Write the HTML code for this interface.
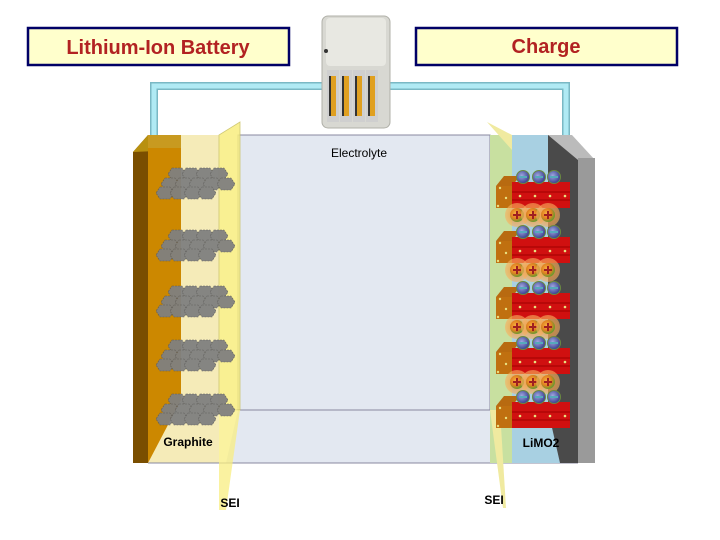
<!DOCTYPE html>
<html><head><meta charset="utf-8"><style>
html,body{margin:0;padding:0;background:#fff;width:720px;height:540px;overflow:hidden}
svg{display:block}
text{font-family:"Liberation Sans",Arial,sans-serif}
</style></head><body>
<svg width="720" height="540" viewBox="0 0 720 540" xmlns="http://www.w3.org/2000/svg">
<defs>
<g id="hex">
<polygon points="0,-6 10,-6 14,0 10,6 0,6 -4,0" fill="#808080" stroke="#5a5a5a" stroke-width="0.6" stroke-dasharray="2,1"/>
</g>
<g id="cl">
<use href="#hex" x="-28" y="-6"/><use href="#hex" x="-14" y="-6"/><use href="#hex" x="0" y="-6"/><use href="#hex" x="14" y="-6"/>
<use href="#hex" x="-35" y="4"/><use href="#hex" x="-21" y="4"/><use href="#hex" x="-7" y="4"/><use href="#hex" x="7" y="4"/><use href="#hex" x="21" y="4"/>
<use href="#hex" x="-40" y="13"/><use href="#hex" x="-26" y="13"/><use href="#hex" x="-12" y="13"/><use href="#hex" x="2" y="13"/>
</g>
<radialGradient id="neg" cx="0.4" cy="0.4" r="0.6"><stop offset="0" stop-color="#a0a8e0"/><stop offset="1" stop-color="#3a3f90"/></radialGradient>
<radialGradient id="pos" cx="0.4" cy="0.4" r="0.6"><stop offset="0" stop-color="#f8b040"/><stop offset="0.6" stop-color="#e08020"/><stop offset="1" stop-color="#6a9a30"/></radialGradient>
<radialGradient id="halo" cx="0.5" cy="0.5" r="0.5"><stop offset="0" stop-color="#f09030" stop-opacity="0.9"/><stop offset="1" stop-color="#f8b060" stop-opacity="0.6"/></radialGradient>
<g id="neg1"><circle r="6.5" fill="url(#neg)" stroke="#6a8a40" stroke-width="1"/><rect x="-4" y="-1" width="8" height="2" fill="#5ab"/></g>
<g id="pos1"><circle r="12" fill="url(#halo)"/><circle r="7" fill="url(#pos)"/><rect x="-4" y="-1" width="8" height="2" fill="#a02020"/><rect x="-1" y="-4" width="2" height="8" fill="#a02020"/></g>
<g id="redrow">
<polygon points="496,-2 504,-12 520,-12 512,-2" fill="#b86a10"/>
<polygon points="496,-2 512,-2 512,20 496,20" fill="#c07010"/>
<rect x="512" y="-6" width="58" height="26" fill="#d01010"/>
<path d="M512 4 h58 M512 12 h58" stroke="#a00000" stroke-width="1"/>
<g fill="#e8e080"><circle cx="520" cy="8" r="1.3"/><circle cx="535" cy="8" r="1.3"/><circle cx="550" cy="8" r="1.3"/><circle cx="565" cy="8" r="1.3"/><circle cx="500" cy="0" r="1.2"/><circle cx="506" cy="10" r="1.2"/><circle cx="498" cy="18" r="1.2"/></g>
</g>
<g id="negrow"><use href="#neg1" x="523"/><use href="#neg1" x="539"/><use href="#neg1" x="554"/></g>
<g id="posrow"><use href="#pos1" x="517"/><use href="#pos1" x="533"/><use href="#pos1" x="548"/></g>
</defs>

<rect x="28" y="28" width="261" height="37" fill="#ffffcc" stroke="#000066" stroke-width="2.5"/>
<text x="158" y="54" text-anchor="middle" font-size="20" font-weight="bold" fill="#b22222">Lithium-Ion Battery</text>
<rect x="416" y="28" width="261" height="37" fill="#ffffcc" stroke="#000066" stroke-width="2.5"/>
<text x="546" y="53" text-anchor="middle" font-size="20" font-weight="bold" fill="#b22222">Charge</text>

<path d="M154 140 V86 H566 V145" fill="none" stroke="#7ab8c4" stroke-width="8"/>
<path d="M154 140 V86 H566 V145" fill="none" stroke="#b0eaf4" stroke-width="5"/>

<rect x="322" y="16" width="68" height="112" rx="6" fill="#d8d8d2" stroke="#b0b0a8"/>
<rect x="326" y="18" width="60" height="48" rx="4" fill="#e8e8e2"/>
<circle cx="326" cy="51" r="2" fill="#333"/>
<g>
<rect x="327" y="70" width="12" height="52" fill="#cfcfcf"/><rect x="340" y="70" width="12" height="52" fill="#cfcfcf"/><rect x="353" y="70" width="12" height="52" fill="#cfcfcf"/><rect x="366" y="70" width="12" height="52" fill="#cfcfcf"/>
<rect x="330" y="76" width="6" height="40" fill="#e0a020"/><rect x="343" y="76" width="6" height="40" fill="#e0a020"/><rect x="356" y="76" width="6" height="40" fill="#e0a020"/><rect x="369" y="76" width="6" height="40" fill="#e0a020"/>
<rect x="329" y="76" width="2" height="40" fill="#333"/><rect x="342" y="76" width="2" height="40" fill="#333"/><rect x="355" y="76" width="2" height="40" fill="#333"/><rect x="368" y="76" width="2" height="40" fill="#333"/>
</g>

<polygon points="133,152 148,135 148,463 133,463" fill="#7a4e00"/>
<polygon points="133,152 148,135 181,135 181,150" fill="#b89010"/>
<rect x="148" y="148" width="33" height="315" fill="#cc8800"/>
<polygon points="148,135 181,135 181,148 148,148" fill="#c89a20"/>
<rect x="181" y="135" width="38" height="328" fill="#f5ebb8"/>
<polygon points="148,463 181,400 181,463" fill="#f5ebb8"/>

<rect x="238" y="135" width="252" height="275" fill="#e3e8f1" stroke="#8888a0" stroke-width="1"/>
<polygon points="238,410 490,410 506,463 226,463" fill="#e3e8f1"/>
<line x1="238" y1="410" x2="490" y2="410" stroke="#8888a0"/>
<line x1="148" y1="463" x2="578" y2="463" stroke="#8888a0"/>
<text x="359" y="157" text-anchor="middle" font-size="12" fill="#000">Electrolyte</text>

<polygon points="219,135 240,122 240,410 219,410" fill="#f8ee80" stroke="#c8c060" stroke-width="0.8" opacity="0.85"/>
<polygon points="219,410 240,410 226,510 219,510" fill="#f8ee80" opacity="0.75"/>

<g opacity="0.95">
<use href="#cl" x="200" y="180"/><use href="#cl" x="200" y="242"/><use href="#cl" x="200" y="298"/><use href="#cl" x="200" y="352"/><use href="#cl" x="200" y="406"/>
</g>
<text x="188" y="446" text-anchor="middle" font-size="12" font-weight="bold">Graphite</text>

<rect x="490" y="135" width="22" height="328" fill="#c8e0a0"/>
<polygon points="487,122 512,150 512,135" fill="#f0eaa0"/>
<rect x="512" y="135" width="36" height="328" fill="#a8d0e2"/>
<polygon points="548,135 568,135 578,150 578,463 548,463" fill="#4a4a4a"/>
<polygon points="548,135 572,135 595,160 578,160" fill="#bbbbbb"/>
<rect x="578" y="158" width="17" height="305" fill="#9a9a9a"/>
<polygon points="512,410 548,410 560,463 512,463" fill="#a8d0e2"/>
<polygon points="490,410 512,410 512,463 505,463" fill="#c8e0a0"/>
<polygon points="490,410 500,410 506,508 503,508" fill="#f0eaa0"/>

<use href="#redrow" y="188"/><use href="#negrow" y="177"/>
<use href="#posrow" y="215"/>
<use href="#redrow" y="243"/><use href="#negrow" y="232"/>
<use href="#posrow" y="270"/>
<use href="#redrow" y="299"/><use href="#negrow" y="288"/>
<use href="#posrow" y="327"/>
<use href="#redrow" y="354"/><use href="#negrow" y="343"/>
<use href="#posrow" y="382"/>
<use href="#redrow" y="408"/><use href="#negrow" y="397"/>
<text x="541" y="447" text-anchor="middle" font-size="12" font-weight="bold">LiMO2</text>

<text x="230" y="507" text-anchor="middle" font-size="12" font-weight="bold">SEI</text>
<text x="494" y="504" text-anchor="middle" font-size="12" font-weight="bold">SEI</text>
</svg>
</body></html>
